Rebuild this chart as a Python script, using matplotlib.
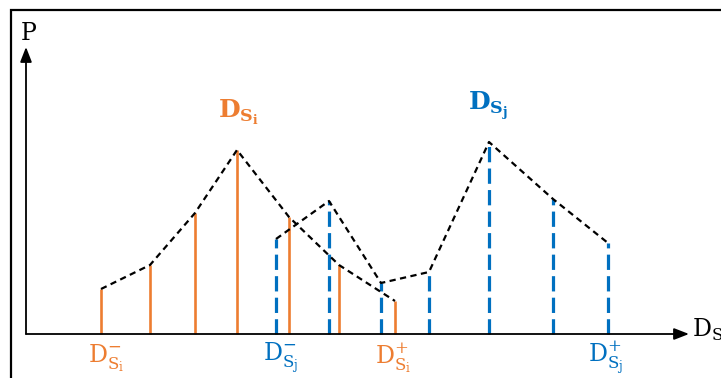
import matplotlib
matplotlib.use("Agg")
import matplotlib.pyplot as plt
from matplotlib.patches import Rectangle

# positions along D_S and heights P
si_x = [75, 124, 169, 211, 263, 313, 369]
si_p = [45, 69, 121, 184, 117, 69, 33]
sj_x = [250, 303, 355, 403, 463, 527, 582]
sj_p = [95, 133, 51, 62, 192, 135, 91]

orange = "#ED7D31"
blue = "#0070C0"

plt.rcParams["mathtext.fontset"] = "custom"
plt.rcParams["mathtext.rm"] = "DejaVu Serif"
plt.rcParams["mathtext.bf"] = "DejaVu Serif:bold"
plt.rcParams["font.family"] = "DejaVu Serif"
plt.rcParams["lines.scale_dashes"] = False

fig = plt.figure(figsize=(7.21, 3.78), dpi=100)
ax = fig.add_axes([0, 0, 1, 1])
ax.set_xlim(-26, 695)
ax.set_ylim(-44, 334)
ax.axis("off")

# outer frame
fig.patches.append(Rectangle((11 / 721, -0.2), 2, 1 - 10 / 378 + 0.2,
                             transform=fig.transFigure, fill=False,
                             lw=1.6, ec="black"))

# axes with arrows
ax.annotate("", xy=(0, 287), xytext=(0, 0),
            arrowprops=dict(arrowstyle="-|>,head_length=0.9,head_width=0.35",
                            color="black", lw=1.3, shrinkA=0, shrinkB=0))
ax.annotate("", xy=(663, 0), xytext=(0, 0),
            arrowprops=dict(arrowstyle="-|>,head_length=0.9,head_width=0.35",
                            color="black", lw=1.3, shrinkA=0, shrinkB=0))

# orange solid stems, blue dashed stems
ax.vlines(si_x, 0, si_p, colors=orange, lw=1.9, zorder=2)
ax.vlines(sj_x, 0, sj_p, colors=blue, lw=2.3, linestyles=[(0, (11, 4.5))], zorder=2)

# envelopes
ax.plot(si_x, si_p, color="black", lw=1.6, dashes=(4.5, 3.2), zorder=3)
ax.plot(sj_x, sj_p, color="black", lw=1.6, dashes=(4.5, 3.2), zorder=3)

ax.text(3, 301, "P", fontsize=17, ha="center", va="center")
ax.text(666, 4, r"$\mathrm{D}_\mathrm{S}$", fontsize=17, ha="left", va="center")

ax.text(213, 222, r"$\mathbf{D}_{\mathbf{S}_\mathbf{i}}$", fontsize=18,
        color=orange, ha="center", va="center")
ax.text(462, 228, r"$\mathbf{D}_{\mathbf{S}_\mathbf{j}}$", fontsize=18,
        color=blue, ha="center", va="center")

ax.text(80, -24, r"$\mathrm{D}^{-}_{\mathrm{S}_\mathrm{i}}$", fontsize=17,
        color=orange, ha="center", va="center")
ax.text(255, -24, r"$\mathrm{D}^{-}_{\mathrm{S}_\mathrm{j}}$", fontsize=17,
        color=blue, ha="center", va="center")
ax.text(367, -24, r"$\mathrm{D}^{+}_{\mathrm{S}_\mathrm{i}}$", fontsize=17,
        color=orange, ha="center", va="center")
ax.text(580, -24, r"$\mathrm{D}^{+}_{\mathrm{S}_\mathrm{j}}$", fontsize=17,
        color=blue, ha="center", va="center")

fig.savefig("out.png", dpi=100)
